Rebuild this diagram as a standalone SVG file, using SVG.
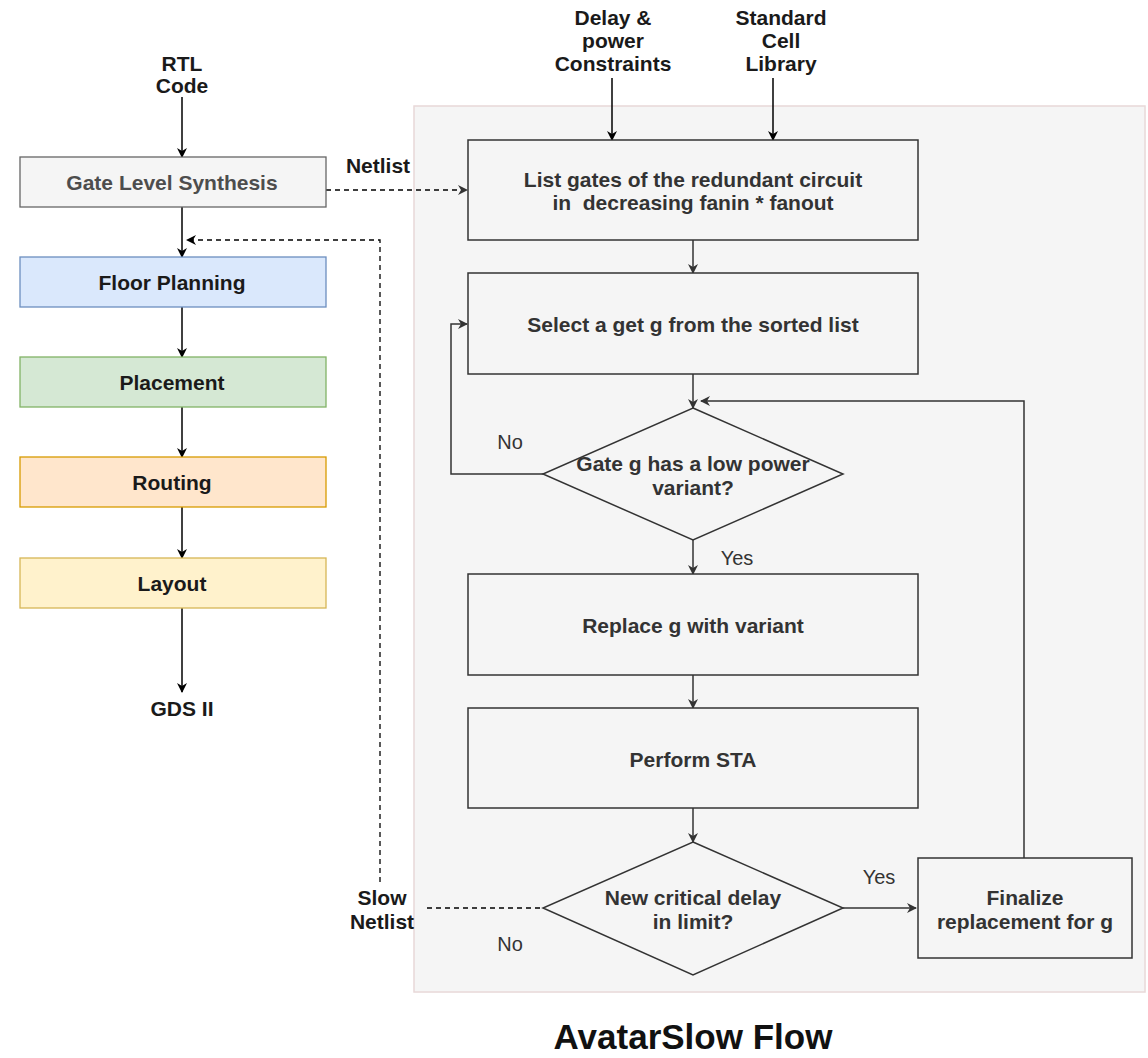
<svg xmlns="http://www.w3.org/2000/svg" width="1148" height="1058" viewBox="0 0 1148 1058">
<defs>
<marker id="ab" markerWidth="10" markerHeight="10" refX="9" refY="5" orient="auto" markerUnits="userSpaceOnUse"><path d="M0,0 L10,5 L0,10 L3,5 Z" fill="#000"/></marker>
<marker id="ag" markerWidth="10" markerHeight="10" refX="9" refY="5" orient="auto" markerUnits="userSpaceOnUse"><path d="M0,0 L10,5 L0,10 L3,5 Z" fill="#333"/></marker>
</defs>
<style>
text{font-family:"Liberation Sans",Arial,sans-serif;text-anchor:middle;}
.b{font-weight:bold;font-size:21px;fill:#1a1a1a;}
.p{font-weight:bold;font-size:21px;fill:#333;}
.l{font-size:20px;fill:#333;}
.box{fill:#f5f5f5;stroke:#333;stroke-width:1.5;}
.k{stroke:#000;stroke-width:1.5;fill:none;}
.g{stroke:#333;stroke-width:1.5;fill:none;}
.d{stroke:#000;stroke-width:1.3;fill:none;stroke-dasharray:5 4;}
</style>
<rect x="0" y="0" width="1148" height="1058" fill="#fff"/>
<g id="panel"><rect x="414" y="106" width="731" height="886" fill="#f5f5f5" stroke="#e8d8d8" stroke-width="1.5"/></g>

<g id="connectors">
<line class="k" x1="182" y1="97" x2="182" y2="157" marker-end="url(#ab)"/>
<line class="k" x1="182" y1="207" x2="182" y2="257" marker-end="url(#ab)"/>
<line class="k" x1="182" y1="307" x2="182" y2="357" marker-end="url(#ab)"/>
<line class="k" x1="182" y1="407" x2="182" y2="457" marker-end="url(#ab)"/>
<line class="k" x1="182" y1="507" x2="182" y2="558" marker-end="url(#ab)"/>
<line class="k" x1="182" y1="608" x2="182" y2="692" marker-end="url(#ab)"/>
<line class="d" x1="326" y1="190" x2="467" y2="190" stroke="#333" marker-end="url(#ag)"/>
<polyline class="d" points="380,882 380,240 187,240" marker-end="url(#ab)"/>
<line class="d" x1="427" y1="908" x2="543" y2="908"/>
<line class="k" x1="612" y1="78" x2="612" y2="140" marker-end="url(#ab)"/>
<line class="k" x1="773" y1="78" x2="773" y2="140" marker-end="url(#ab)"/>
<line class="g" x1="693" y1="240" x2="693" y2="273" stroke="#666" marker-end="url(#ag)"/>
<line class="g" x1="693" y1="374" x2="693" y2="408" marker-end="url(#ag)"/>
<polyline class="g" points="1024,858 1024,401 701,401" marker-end="url(#ag)"/>
<polyline class="g" points="543,474 451,474 451,324 467,324" marker-end="url(#ag)"/>
<line class="g" x1="693" y1="540" x2="693" y2="574" marker-end="url(#ag)"/>
<line class="g" x1="693" y1="675" x2="693" y2="708" marker-end="url(#ag)"/>
<line class="g" x1="693" y1="808" x2="693" y2="842" marker-end="url(#ag)"/>
<line class="g" x1="843" y1="908" x2="916" y2="908" stroke-width="2" marker-end="url(#ag)"/>
</g>

<g id="rtl"><text class="b" x="182" y="71">RTL</text><text class="b" x="182" y="93">Code</text></g>
<g id="gls"><rect x="20" y="157" width="306" height="50" fill="#f5f5f5" stroke="#666" stroke-width="1.3"/><text class="b" x="172" y="190" style="fill:#4d4d4d">Gate Level Synthesis</text></g>
<g id="floor"><rect x="20" y="257" width="306" height="50" fill="#dae8fc" stroke="#6c8ebf" stroke-width="1.3"/><text class="b" x="172" y="290">Floor Planning</text></g>
<g id="placement"><rect x="20" y="357" width="306" height="50" fill="#d5e8d4" stroke="#82b366" stroke-width="1.3"/><text class="b" x="172" y="390">Placement</text></g>
<g id="routing"><rect x="20" y="457" width="306" height="50" fill="#ffe6cc" stroke="#d79b00" stroke-width="1.3"/><text class="b" x="172" y="490">Routing</text></g>
<g id="layout"><rect x="20" y="558" width="306" height="50" fill="#fff2cc" stroke="#d6b656" stroke-width="1.3"/><text class="b" x="172" y="591">Layout</text></g>
<g id="gds"><text class="b" x="182" y="716">GDS II</text></g>
<g id="netlist-label"><text class="b" x="378" y="173">Netlist</text></g>
<g id="slow-label"><text class="b" x="382" y="905">Slow</text><text class="b" x="382" y="929">Netlist</text></g>

<g id="delay"><text class="b" x="613" y="25">Delay &amp;</text><text class="b" x="613" y="48">power</text><text class="b" x="613" y="71">Constraints</text></g>
<g id="stdcell"><text class="b" x="781" y="25">Standard</text><text class="b" x="781" y="48">Cell</text><text class="b" x="781" y="71">Library</text></g>

<g id="listgates"><rect class="box" x="468" y="140" width="450" height="100"/><text class="p" x="693" y="187">List gates of the redundant circuit</text><text class="p" x="693" y="210" xml:space="preserve">in  decreasing fanin * fanout</text></g>
<g id="select"><rect class="box" x="468" y="273" width="450" height="101"/><text class="p" x="693" y="332">Select a get g from the sorted list</text></g>
<g id="lowpower"><polygon class="box" points="693,408 843,474 693,540 543,474"/><text class="p" x="693" y="471">Gate g has a low power</text><text class="p" x="693" y="495">variant?</text></g>
<g id="replace"><rect class="box" x="468" y="574" width="450" height="101"/><text class="p" x="693" y="633">Replace g with variant</text></g>
<g id="sta"><rect class="box" x="468" y="708" width="450" height="100"/><text class="p" x="693" y="767">Perform STA</text></g>
<g id="critical"><polygon class="box" points="693,842 843,908 693,975 543,908"/><text class="p" x="693" y="905">New critical delay</text><text class="p" x="693" y="929">in limit?</text></g>
<g id="finalize"><rect class="box" x="918" y="858" width="214" height="100"/><text class="p" x="1025" y="905">Finalize</text><text class="p" x="1025" y="929">replacement for g</text></g>

<g id="labels">
<text class="l" x="510" y="449">No</text>
<text class="l" x="737" y="565">Yes</text>
<text class="l" x="879" y="884">Yes</text>
<text class="l" x="510" y="951">No</text>
</g>
<g id="title"><text x="693" y="1049" style="font-size:35px;font-weight:bold;fill:#111">AvatarSlow Flow</text></g>
</svg>
